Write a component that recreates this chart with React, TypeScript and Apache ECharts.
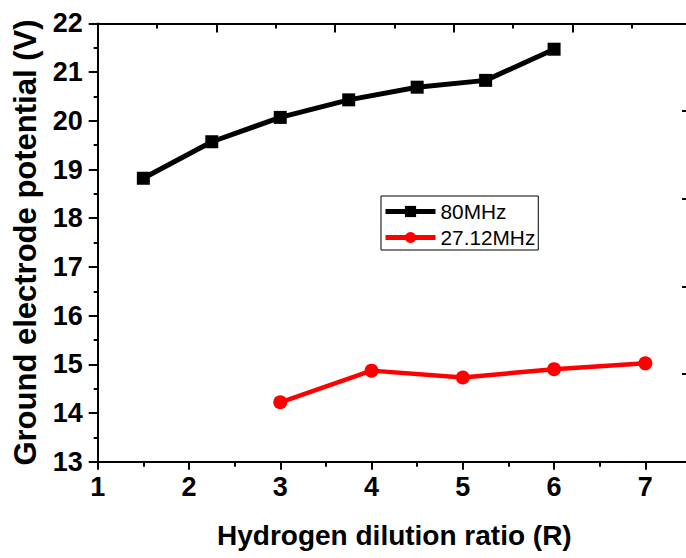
import React, { useEffect, useRef } from "react";
import * as echarts from "echarts";

const xTicks = [1, 2, 3, 4, 5, 6, 7];
const x80 = [1.5, 2.25, 3, 3.75, 4.5, 5.25, 6];
const y80 = [18.82, 19.57, 20.07, 20.43, 20.69, 20.83, 21.47];
const x27 = [3, 4, 5, 6, 7];
const y27 = [14.22, 14.87, 14.73, 14.9, 15.02];
const seriesNames = ["80MHz", "27.12MHz"];
const xTitle = "Hydrogen dilution ratio (R)";
const yTitle = "Ground electrode potential (V)";

const FONT = "'Liberation Sans', Arial, sans-serif";

export default function App() {
  const ref = useRef<HTMLDivElement>(null);
  useEffect(() => {
    if (!ref.current) return;
    const chart = echarts.init(ref.current, undefined, { renderer: "svg" });
    const rect = { left: 97.7, top: 23.4, width: 593.3, height: 438.3 };
    const lineAxis = { show: true, lineStyle: { color: "#000", width: 2 } };
    const option: any = {
      animation: false,
      backgroundColor: "#fff",
      grid: [
        { ...rect, containLabel: false, outerBoundsMode: "none" },
        { ...rect, containLabel: false, outerBoundsMode: "none" },
      ],
      legend: {
        orient: "vertical",
        left: 381,
        top: 196,
        itemWidth: 50,
        itemHeight: 14,
        itemGap: 5,
        padding: [5, 3, 2, 2],
        borderColor: "#000",
        borderWidth: 1,
        borderRadius: 0,
        lineStyle: { width: 5 },
        data: seriesNames,
        textStyle: { fontSize: 20.8, color: "#000", fontFamily: FONT },
      },
      xAxis: [
        {
          type: "value",
          gridIndex: 0,
          position: "bottom",
          min: 1,
          max: 7.5,
          interval: 1,
          name: xTitle,
          nameLocation: "middle",
          nameGap: 60,
          nameTextStyle: { fontSize: 28, fontWeight: "bold", color: "#000", fontFamily: FONT },
          axisLine: lineAxis,
          axisTick: { show: true, length: 8, lineStyle: { color: "#000", width: 2 } },
          axisLabel: {
            margin: 12,
            fontSize: 27,
            fontWeight: "bold",
            color: "#000",
            fontFamily: FONT,
            formatter: (v: number) => (xTicks.includes(v) ? String(v) : ""),
          },
          splitLine: { show: false },
        },
        {
          type: "value",
          gridIndex: 0,
          position: "top",
          min: 0,
          max: 5,
          interval: 1,
          axisLine: lineAxis,
          axisTick: { show: true, inside: true, length: 9, lineStyle: { color: "#000", width: 2 } },
          minorTick: { show: true, splitNumber: 2, length: 5, lineStyle: { color: "#000", width: 2 } },
          axisLabel: { show: false },
          splitLine: { show: false },
        },
        {
          type: "value",
          gridIndex: 1,
          position: "bottom",
          min: 0,
          max: 13,
          interval: 1,
          axisLine: { show: false },
          axisTick: { show: true, length: 5, lineStyle: { color: "#000", width: 2 } },
          axisLabel: { show: false },
          splitLine: { show: false },
        },
      ],
      yAxis: [
        {
          type: "value",
          gridIndex: 0,
          position: "left",
          min: 13,
          max: 22,
          interval: 1,
          name: yTitle,
          nameLocation: "middle",
          nameGap: 57,
          nameTextStyle: { fontSize: 31, fontWeight: "bold", color: "#000", fontFamily: FONT },
          axisLine: lineAxis,
          axisTick: { show: true, length: 9, lineStyle: { color: "#000", width: 2 } },
          minorTick: { show: true, splitNumber: 2, length: 4, lineStyle: { color: "#000", width: 2 } },
          axisLabel: { margin: 15, fontSize: 27, fontWeight: "bold", color: "#000", fontFamily: FONT },
          splitLine: { show: false },
        },
        {
          type: "value",
          gridIndex: 0,
          position: "right",
          min: 0,
          max: 5,
          interval: 1,
          axisLine: lineAxis,
          axisTick: { show: true, inside: true, length: 9, lineStyle: { color: "#000", width: 2 } },
          minorTick: { show: true, splitNumber: 2, length: 5, lineStyle: { color: "#000", width: 2 } },
          axisLabel: { show: false },
          splitLine: { show: false },
        },
        {
          type: "value",
          gridIndex: 1,
          show: false,
          min: 0,
          max: 1,
        },
      ],
      series: [
        {
          name: seriesNames[0],
          type: "line",
          xAxisIndex: 0,
          yAxisIndex: 0,
          data: x80.map((x, i) => [x, y80[i]]),
          symbol: "rect",
          symbolSize: 13,
          lineStyle: { color: "#000", width: 5 },
          itemStyle: { color: "#000" },
        },
        {
          name: seriesNames[1],
          type: "line",
          xAxisIndex: 0,
          yAxisIndex: 0,
          data: x27.map((x, i) => [x, y27[i]]),
          symbol: "circle",
          symbolSize: 14,
          lineStyle: { color: "#ff0000", width: 4.5 },
          itemStyle: { color: "#ff0000" },
        },
      ],
    };
    chart.setOption(option);
    return () => chart.dispose();
  }, []);
  return (
    <div
      ref={ref}
      style={{ position: "absolute", left: 0, top: 0, width: 686, height: 558, overflow: "hidden" }}
    />
  );
}
